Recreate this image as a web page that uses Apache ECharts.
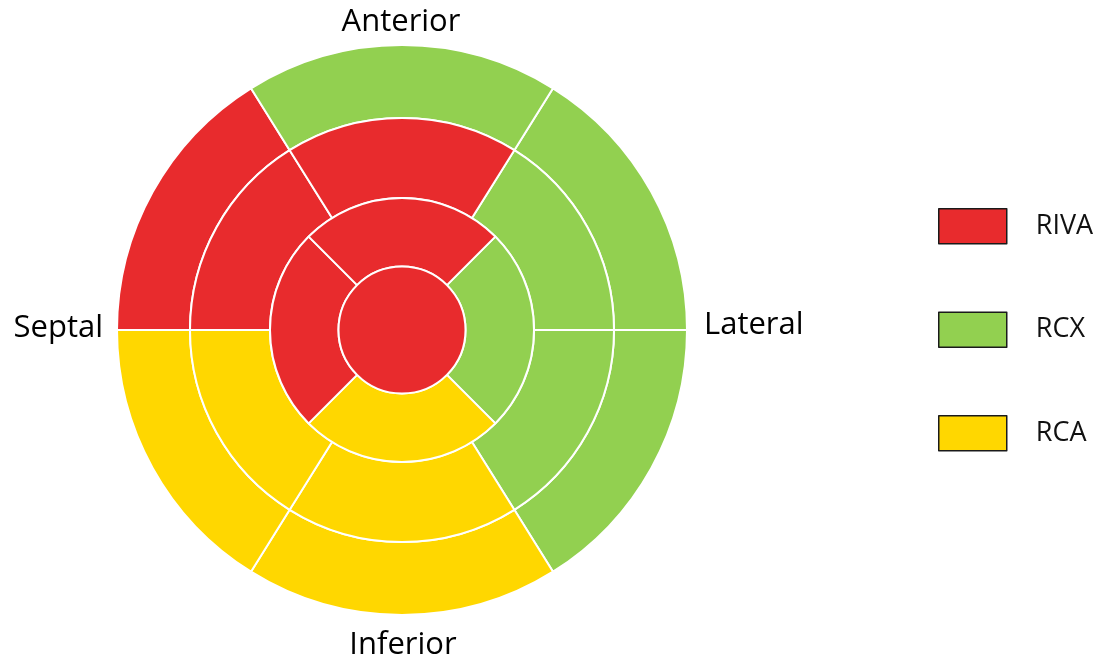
<!DOCTYPE html>
<html>
<head>
<meta charset="utf-8">
<script src="https://cdn.jsdelivr.net/npm/echarts@6/dist/echarts.min.js"></script>
<style>
  html, body { margin: 0; padding: 0; background: #fff; }
  #chart { width: 1101px; height: 660px; }
</style>
</head>
<body>
<div id="chart"></div>
<script>
// territories, one list per ring (inner -> outer), going clockwise from startAngle
const legendNames = ['RIVA', 'RCX', 'RCA'];
const apexNames = ['RIVA'];
const apexSpans = [360];
const basalInnerNames = ['RCX', 'RCA', 'RIVA', 'RIVA'];
const basalInnerSpans = [90, 90, 90, 90];
const midNames = ['RCX', 'RCX', 'RCA', 'RCA', 'RIVA', 'RIVA'];
const midSpans = [58, 58, 64, 58, 58, 64];
const basalNames = ['RCX', 'RCX', 'RCA', 'RCA', 'RIVA', 'RCX'];
const basalSpans = [58, 58, 64, 58, 58, 64];
const wallLabels = ['Anterior', 'Lateral', 'Inferior', 'Septal'];

const colors = { RIVA: '#E82B2D', RCX: '#92D050', RCA: '#FFD700' };
const font = '"Open Sans", "Noto Sans", sans-serif';
const cx = 402, cy = 330;

function ring(names, spans, radius, startAngle) {
  return {
    type: 'pie',
    center: [cx, cy],
    radius: radius,
    startAngle: startAngle,
    clockwise: true,
    animation: false,
    silent: true,
    avoidLabelOverlap: false,
    label: { show: false },
    labelLine: { show: false },
    emphasis: { disabled: true },
    itemStyle: { borderColor: '#ffffff', borderWidth: 2 },
    data: names.map((n, i) => ({ name: n, value: spans[i], itemStyle: { color: colors[n] } }))
  };
}

function wallText(i, x, y, align) {
  return {
    type: 'text', x: x, y: y,
    style: { text: wallLabels[i], font: '31px ' + font, fill: '#000', align: align, verticalAlign: 'middle' }
  };
}

const chart = echarts.init(document.getElementById('chart'), null, { renderer: 'canvas' });
chart.setOption({
  backgroundColor: '#ffffff',
  animation: false,
  legend: {
    data: legendNames,
    orient: 'vertical',
    left: 938,
    top: 208,
    padding: 0,
    icon: 'rect',
    itemWidth: 68,
    itemHeight: 35,
    itemGap: 67,
    selectedMode: false,
    itemStyle: { borderColor: '#1a1a1a', borderWidth: 1.5 },
    textStyle: { fontFamily: font, fontSize: 27, color: '#111', padding: [0, 0, 0, 24] }
  },
  graphic: [
    wallText(0, 401, 22, 'center'),
    wallText(1, 704, 325, 'left'),
    wallText(2, 403, 645, 'center'),
    wallText(3, 103, 328, 'right')
  ],
  series: [
    ring(basalNames, basalSpans, [212, 285], 58),
    ring(midNames, midSpans, [132, 212], 58),
    ring(basalInnerNames, basalInnerSpans, [63.5, 132], 45),
    ring(apexNames, apexSpans, [0, 63.5], 90)
  ]
});
</script>
</body>
</html>
